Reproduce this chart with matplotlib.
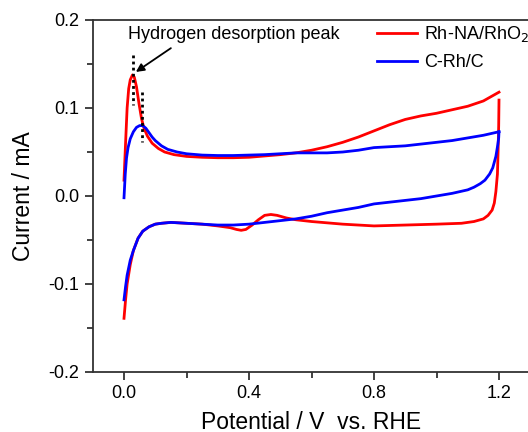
import matplotlib
matplotlib.use("Agg")
import matplotlib.pyplot as plt
from matplotlib.ticker import MultipleLocator

plt.rcParams['font.family'] = ['Liberation Sans', 'DejaVu Sans']

# Red (Rh-NA/RhO2) anodic scan
red_fwd_x = [0.000, 0.005, 0.010, 0.015, 0.020, 0.027, 0.033, 0.040, 0.048, 0.056,
             0.064, 0.075, 0.090, 0.110, 0.130, 0.160, 0.200, 0.250, 0.300, 0.350,
             0.400, 0.450, 0.500, 0.550, 0.600, 0.650, 0.700, 0.750, 0.800, 0.850,
             0.900, 0.950, 1.000, 1.050, 1.100, 1.150, 1.200]
red_fwd_y = [0.018, 0.060, 0.100, 0.122, 0.132, 0.1375, 0.135, 0.124, 0.105, 0.088,
             0.077, 0.068, 0.060, 0.054, 0.050, 0.047, 0.045, 0.044, 0.0435, 0.0435,
             0.044, 0.0455, 0.047, 0.049, 0.052, 0.056, 0.061, 0.067, 0.074, 0.081,
             0.087, 0.091, 0.094, 0.098, 0.102, 0.108, 0.118]
# Red cathodic scan
red_rev_x = [1.200, 1.199, 1.197, 1.195, 1.190, 1.185, 1.178, 1.165, 1.150, 1.120,
             1.080, 1.000, 0.900, 0.800, 0.700, 0.600, 0.550, 0.520, 0.490, 0.470,
             0.450, 0.430, 0.410, 0.390, 0.375, 0.360, 0.340, 0.300, 0.250, 0.200,
             0.150, 0.120, 0.100, 0.080, 0.060, 0.045, 0.030, 0.020, 0.010, 0.005, 0.000]
red_rev_y = [0.109, 0.080, 0.050, 0.025, 0.005, -0.008, -0.016, -0.022, -0.026, -0.029,
             -0.031, -0.032, -0.033, -0.034, -0.032, -0.029, -0.027, -0.025, -0.022, -0.021,
             -0.022, -0.027, -0.033, -0.038, -0.039, -0.038, -0.036, -0.034, -0.032, -0.031,
             -0.030, -0.031, -0.032, -0.035, -0.040, -0.048, -0.062, -0.078, -0.100, -0.118, -0.139]

# Blue (C-Rh/C) anodic scan
blue_fwd_x = [0.000, 0.004, 0.008, 0.013, 0.020, 0.030, 0.040, 0.050, 0.060, 0.070,
              0.080, 0.090, 0.100, 0.120, 0.140, 0.170, 0.200, 0.250, 0.300, 0.350,
              0.400, 0.450, 0.500, 0.550, 0.600, 0.650, 0.700, 0.750, 0.800, 0.850,
              0.900, 0.950, 1.000, 1.050, 1.100, 1.150, 1.200]
blue_fwd_y = [-0.002, 0.025, 0.043, 0.055, 0.065, 0.073, 0.078, 0.080, 0.080, 0.077,
              0.072, 0.067, 0.063, 0.057, 0.053, 0.050, 0.048, 0.0465, 0.046, 0.046,
              0.0465, 0.047, 0.048, 0.049, 0.049, 0.049, 0.050, 0.052, 0.055, 0.056,
              0.057, 0.059, 0.061, 0.063, 0.066, 0.069, 0.073]
# Blue cathodic scan
blue_rev_x = [1.200, 1.199, 1.196, 1.190, 1.180, 1.170, 1.155, 1.140, 1.120, 1.100,
              1.050, 1.000, 0.950, 0.900, 0.850, 0.800, 0.750, 0.700, 0.650, 0.600,
              0.550, 0.500, 0.450, 0.400, 0.350, 0.300, 0.250, 0.200, 0.150, 0.120,
              0.100, 0.080, 0.060, 0.045, 0.030, 0.020, 0.010, 0.005, 0.000]
blue_rev_y = [0.073, 0.066, 0.058, 0.045, 0.032, 0.025, 0.018, 0.014, 0.010, 0.007,
              0.003, 0.000, -0.003, -0.005, -0.007, -0.009, -0.013, -0.016, -0.019, -0.023,
              -0.026, -0.028, -0.030, -0.032, -0.033, -0.033, -0.032, -0.031, -0.030, -0.031,
              -0.032, -0.035, -0.040, -0.048, -0.062, -0.073, -0.090, -0.103, -0.118]

labels = ['Rh-NA/RhO$_2$', 'C-Rh/C']
x_ticks = [0.0, 0.4, 0.8, 1.2]
y_ticks = [-0.2, -0.1, 0.0, 0.1, 0.2]
annot_text = 'Hydrogen desorption peak'
dots1_x = [0.029, 0.029]
dots1_y = [0.160, 0.103]
dots2_x = [0.058, 0.058]
dots2_y = [0.118, 0.061]

fig = plt.figure(figsize=(5.28, 4.32), dpi=100)
ax = fig.add_axes([92.75 / 528, 60 / 432, 437.5 / 528, 352 / 432])

lw = 2.0
ax.plot(red_fwd_x, red_fwd_y, color='#ff0000', lw=lw, label=labels[0])
ax.plot(red_rev_x, red_rev_y, color='#ff0000', lw=lw)
ax.plot(blue_fwd_x, blue_fwd_y, color='#0000ff', lw=lw, label=labels[1])
ax.plot(blue_rev_x, blue_rev_y, color='#0000ff', lw=lw)

ax.plot(dots1_x, dots1_y, color='black', lw=2, linestyle=(0, (1, 1.2)))
ax.plot(dots2_x, dots2_y, color='black', lw=2, linestyle=(0, (1, 1.2)))

ax.annotate('', xy=(0.038, 0.141), xytext=(0.150, 0.168),
            arrowprops=dict(arrowstyle='-|>', color='black', lw=1.3,
                            mutation_scale=12, shrinkA=0, shrinkB=0))
ax.text(0.013, 0.183, annot_text, fontsize=13, ha='left', va='center')

ax.set_xlim(-0.1, 1.3)
ax.set_ylim(-0.2, 0.2)
ax.set_xticks(x_ticks)
ax.set_xticklabels(['0.0', '0.4', '0.8', '1.2'])
ax.set_yticks(y_ticks)
ax.set_yticklabels(['-0.2', '-0.1', '0.0', '0.1', '0.2'])
ax.xaxis.set_minor_locator(MultipleLocator(0.2))
ax.yaxis.set_minor_locator(MultipleLocator(0.05))
ax.tick_params(axis='both', which='major', direction='out', length=6, width=1.3,
               labelsize=13, color='#333333', top=False, right=False)
ax.tick_params(axis='both', which='minor', direction='out', length=4, width=1.3,
               color='#333333', top=False, right=False)
for s in ['left', 'bottom', 'top']:
    ax.spines[s].set_linewidth(1.3)
    ax.spines[s].set_color('#333333')
ax.spines['right'].set_visible(False)

ax.set_xlabel('Potential / V  vs. RHE', fontsize=16.5, labelpad=6)
ax.set_ylabel('Current / mA', fontsize=16.5, labelpad=10)

ax.legend(loc='upper left', bbox_to_anchor=((377 - 92.75) / 437.5, 1 - 4 / 352),
          frameon=False, fontsize=13, handlelength=2.2, handletextpad=0.4,
          labelspacing=0.55, borderaxespad=0, borderpad=0)

fig.savefig('out.png', dpi=100)
